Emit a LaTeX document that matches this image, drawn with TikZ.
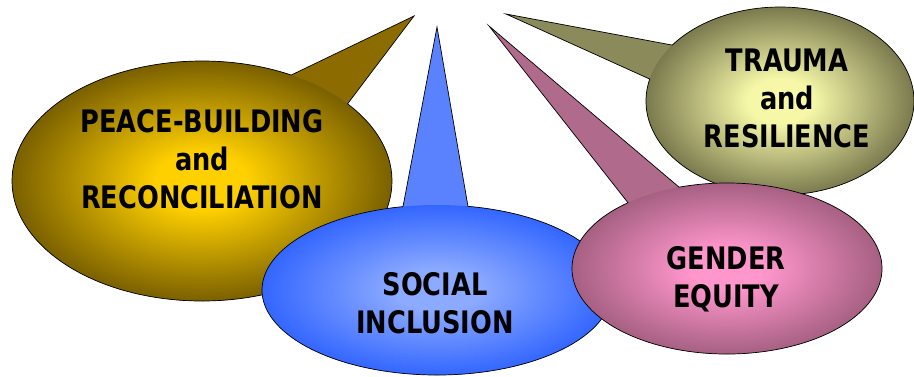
\documentclass[tikz,border=0pt]{standalone}
\usepackage{fontspec}
\newfontfamily\bubfont{DejaVu Sans Condensed Bold}[FakeStretch=0.92]
\usetikzlibrary{calc}
\definecolor{goldin}{HTML}{FFD000}
\definecolor{goldout}{HTML}{7A6000}
\definecolor{goldtail}{HTML}{8C6C00}
\definecolor{bluein}{HTML}{8CAAFF}
\definecolor{blueout}{HTML}{3366FF}
\definecolor{bluetail}{HTML}{5A82FF}
\definecolor{pinkin}{HTML}{FF96CC}
\definecolor{pinkout}{HTML}{A66082}
\definecolor{pinktail}{HTML}{B06A8C}
\definecolor{olivein}{HTML}{F6F8A8}
\definecolor{oliveout}{HTML}{7A7A4E}
\definecolor{olivetail}{HTML}{8A8A5A}
\pgfdeclareradialshading{goldsh}{\pgfpointorigin}{color(0bp)=(goldin); color(6bp)=(goldin); color(25bp)=(goldout); color(50bp)=(goldout)}
\pgfdeclareradialshading{bluesh}{\pgfpointorigin}{color(0bp)=(bluein); color(6bp)=(bluein); color(25bp)=(blueout); color(50bp)=(blueout)}
\pgfdeclareradialshading{pinksh}{\pgfpointorigin}{color(0bp)=(pinkin); color(6bp)=(pinkin); color(25bp)=(pinkout); color(50bp)=(pinkout)}
\pgfdeclareradialshading{olivesh}{\pgfpointorigin}{color(0bp)=(olivein); color(6bp)=(olivein); color(25bp)=(oliveout); color(50bp)=(oliveout)}
\tikzset{
  outline/.style={draw=black, line width=0.7pt, line join=miter},
  lbl/.style={font=\bubfont\fontsize{31}{38}\selectfont, align=center, inner sep=0pt, text=black}
}
\begin{document}
\begin{tikzpicture}[x=1pt,y=1pt]
\useasboundingbox (0,0) rectangle (914,-376);
\fill[white] (0,0) rectangle (914,-376);

% ---------- gold bubble ----------
\coordinate (gc) at (202,-181);
\coordinate (gtip) at (414,-16);
\coordinate (gA) at ($(gc)+(62:190 and 120)$);
\coordinate (gB) at ($(gc)+(40:190 and 120)$);
\begin{scope}
  \clip (gA) -- (gtip) -- (gB) arc[start angle=40, end angle=-298, x radius=190, y radius=120] -- cycle;
  \fill[goldtail] (0,0) rectangle (914,-376);
  \shade[shading=goldsh] (gc) ellipse [x radius=190, y radius=120];
\end{scope}
\draw[outline] (gA) -- (gtip) -- (gB) arc[start angle=40, end angle=-298, x radius=190, y radius=120] -- cycle;

% ---------- olive bubble ----------
\coordinate (oc) at (780,-101);
\coordinate (otip) at (506,-14);
\coordinate (oA) at ($(oc)+(143.5:134 and 94)$);
\coordinate (oB) at ($(oc)+(166.5:134 and 94)$);
\begin{scope}
  \clip (oA) -- (otip) -- (oB) arc[start angle=166.5, end angle=503.5, x radius=134, y radius=94] -- cycle;
  \fill[olivetail] (0,0) rectangle (914,-376);
  \shade[shading=olivesh] (oc) ellipse [x radius=134, y radius=94];
\end{scope}
\draw[outline] (oA) -- (otip) -- (oB) arc[start angle=166.5, end angle=503.5, x radius=134, y radius=94] -- cycle;

% ---------- blue bubble ----------
\coordinate (bc) at (437,-290);
\coordinate (btip) at (437,-27);
\coordinate (bA) at ($(bc)+(101.2:175 and 85)$);
\coordinate (bB) at ($(bc)+(79.8:175 and 85)$);
\begin{scope}
  \clip (bA) -- (btip) -- (bB) arc[start angle=79.8, end angle=-258.8, x radius=175, y radius=85] -- cycle;
  \fill[bluetail] (0,0) rectangle (914,-376);
  \shade[shading=bluesh] (bc) ellipse [x radius=175, y radius=85];
\end{scope}
\draw[outline] (bA) -- (btip) -- (bB) arc[start angle=79.8, end angle=-258.8, x radius=175, y radius=85] -- cycle;

% ---------- pink bubble ----------
\coordinate (pc) at (727,-268.5);
\coordinate (ptip) at (489,-26);
\coordinate (pA) at ($(pc)+(129.7:155 and 85.5)$);
\coordinate (pB) at ($(pc)+(108:155 and 85.5)$);
\begin{scope}
  \clip (pA) -- (ptip) -- (pB) arc[start angle=108, end angle=-230.3, x radius=155, y radius=85.5] -- cycle;
  \fill[pinktail] (0,0) rectangle (914,-376);
  \shade[shading=pinksh] (pc) ellipse [x radius=155, y radius=85.5];
\end{scope}
\draw[outline] (pA) -- (ptip) -- (pB) arc[start angle=108, end angle=-230.3, x radius=155, y radius=85.5] -- cycle;

% ---------- labels ----------
\node[lbl] (gt) at (202,-159) {PEACE-BUILDING\\and\\RECONCILIATION};
\node[lbl] (bt) at (435,-303) {SOCIAL\\INCLUSION};
\node[lbl] (pt) at (726,-279) {GENDER\\EQUITY};
\node[lbl] (ot) at (787,-98) {TRAUMA\\and\\RESILIENCE};
\end{tikzpicture}
\end{document}
